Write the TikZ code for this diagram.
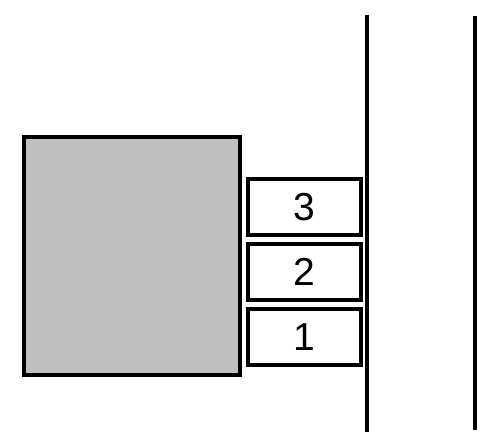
\documentclass[tikz,border=0pt]{standalone}
\usepackage{fontspec}
\setmainfont{Liberation Sans}
\usepackage{tikz}

\begin{document}
\begin{tikzpicture}[x=1pt, y=-1pt]
\useasboundingbox (0,0) rectangle (500,441);
\node[draw, line width=4pt, fill=gray!50, minimum width=216pt, minimum height=238pt, inner sep=0pt] (block) at (132,256) {};
\foreach \n/\y in {1/337,2/272,3/207}
    \node[draw, line width=3.5pt, minimum width=113pt, minimum height=56pt, inner sep=0pt, font=\fontsize{39}{40}\selectfont] (pad\n) at (304.5,\y) {\n};
\draw[line width=4pt] (367,15) -- (367,432);
\draw[line width=4pt] (475,16) -- (475,430);
\end{tikzpicture}
\end{document}
